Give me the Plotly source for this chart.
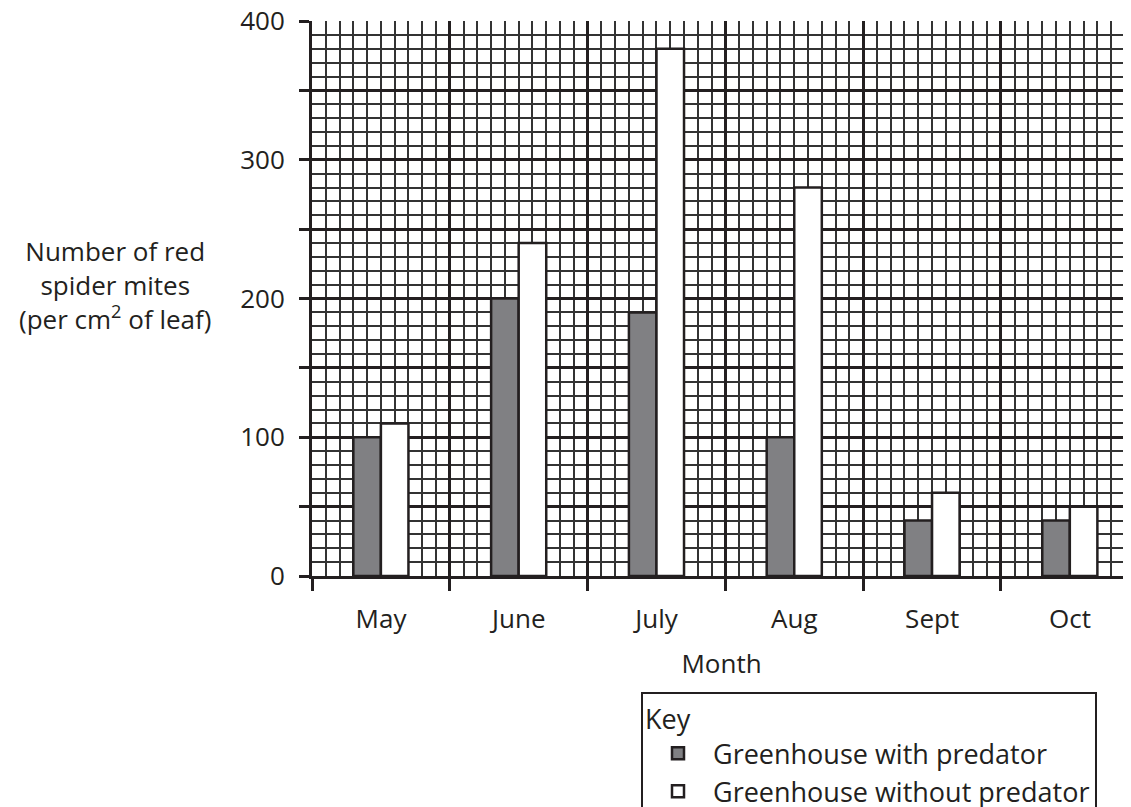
import numpy as np
import plotly.graph_objects as go

months = ["May", "June", "July", "Aug", "Sept", "Oct"]
with_predator = [100, 200, 190, 100, 40, 40]
without_predator = [110, 240, 380, 280, 60, 50]
y_tick_values = [0, 50, 100, 150, 200, 250, 300, 350, 400]
y_tick_labels = ["0", "", "100", "", "200", "", "300", "", "400"]
y_title = "Number of red<br>spider mites<br>(per cm<sup>2</sup> of leaf)"

INK = "#231f20"
FONT = "Open Sans"
FS = 26

OFF = 8  # default page body margin
PAGE_W, PAGE_H = 1131, 807
W, H = PAGE_W - OFF, PAGE_H - OFF
L, R, T, B = 312 - OFF, 0, 21 - OFF, PAGE_H - 576
plot_w = W - L - R
plot_h = H - T - B

x_max = 5.944
n = len(months)
x_centers = np.arange(n) + 0.5
x_bounds = np.arange(n)
cat_px = plot_w / x_max

fig = go.Figure()
fig.add_trace(go.Bar(
    x=x_centers, y=with_predator, name="Greenhouse with predator",
    marker=dict(color="#808083", line=dict(color=INK, width=2.5)),
))
fig.add_trace(go.Bar(
    x=x_centers, y=without_predator, name="Greenhouse without predator",
    marker=dict(color="#ffffff", line=dict(color=INK, width=2.5)),
))

fig.update_layout(
    width=W, height=H,
    margin=dict(l=L, r=R, t=T, b=B, autoexpand=False),
    paper_bgcolor="white", plot_bgcolor="white",
    font=dict(family=FONT, size=FS, color=INK),
    barmode="group", bargap=0.6, bargroupgap=0,
    showlegend=True,
    legend=dict(
        title=dict(text="Key", font=dict(size=27, family=FONT, color=INK)),
        font=dict(size=27, family=FONT, color=INK),
        x=(641 - OFF - L) / plot_w, xanchor="left",
        y=(H - B - (692 - OFF)) / plot_h, yanchor="top",
        bordercolor=INK, borderwidth=2, bgcolor="white",
        traceorder="normal", tracegroupgap=0, itemwidth=60,
        entrywidth=520, entrywidthmode="pixels",
    ),
    xaxis=dict(
        range=[0, x_max], showline=True, linewidth=3, linecolor=INK,
        ticks="outside", ticklen=12, tickwidth=2.5, tickcolor=INK,
        tickmode="array", tickvals=list(x_bounds), ticktext=months,
        ticklabelshift=int(round(cat_px / 2)), ticklabelstandoff=6,
        ticklabeloverflow="allow",
        tickfont=dict(size=FS, family=FONT, color=INK),
        title=dict(text="Month", font=dict(size=FS, family=FONT, color=INK), standoff=20),
        showgrid=True, gridcolor=INK, gridwidth=2.8, zeroline=False,
        minor=dict(dtick=0.1, tick0=0, showgrid=True, gridcolor="#333333",
                   gridwidth=1.8, ticks=""),
        fixedrange=True,
    ),
    yaxis=dict(
        range=[0, 400], showline=True, linewidth=3, linecolor=INK,
        ticks="outside", ticklen=10, tickwidth=2.5, tickcolor=INK,
        tickmode="array", tickvals=y_tick_values, ticktext=y_tick_labels,
        ticklabelstandoff=9, ticklabeloverflow="allow",
        showgrid=True, gridcolor=INK, gridwidth=2.8, zeroline=False,
        minor=dict(dtick=10, tick0=0, showgrid=True, gridcolor="#333333",
                   gridwidth=1.8, ticks=""),
        fixedrange=True,
    ),
)

fig.add_annotation(
    text=y_title, xref="paper", yref="paper",
    x=(115 - OFF - L) / plot_w, y=(H - B - (285 - OFF)) / plot_h,
    xanchor="center", yanchor="middle", showarrow=False, align="center",
    font=dict(size=26, family=FONT, color=INK),
)

fig.write_html("out.html")
